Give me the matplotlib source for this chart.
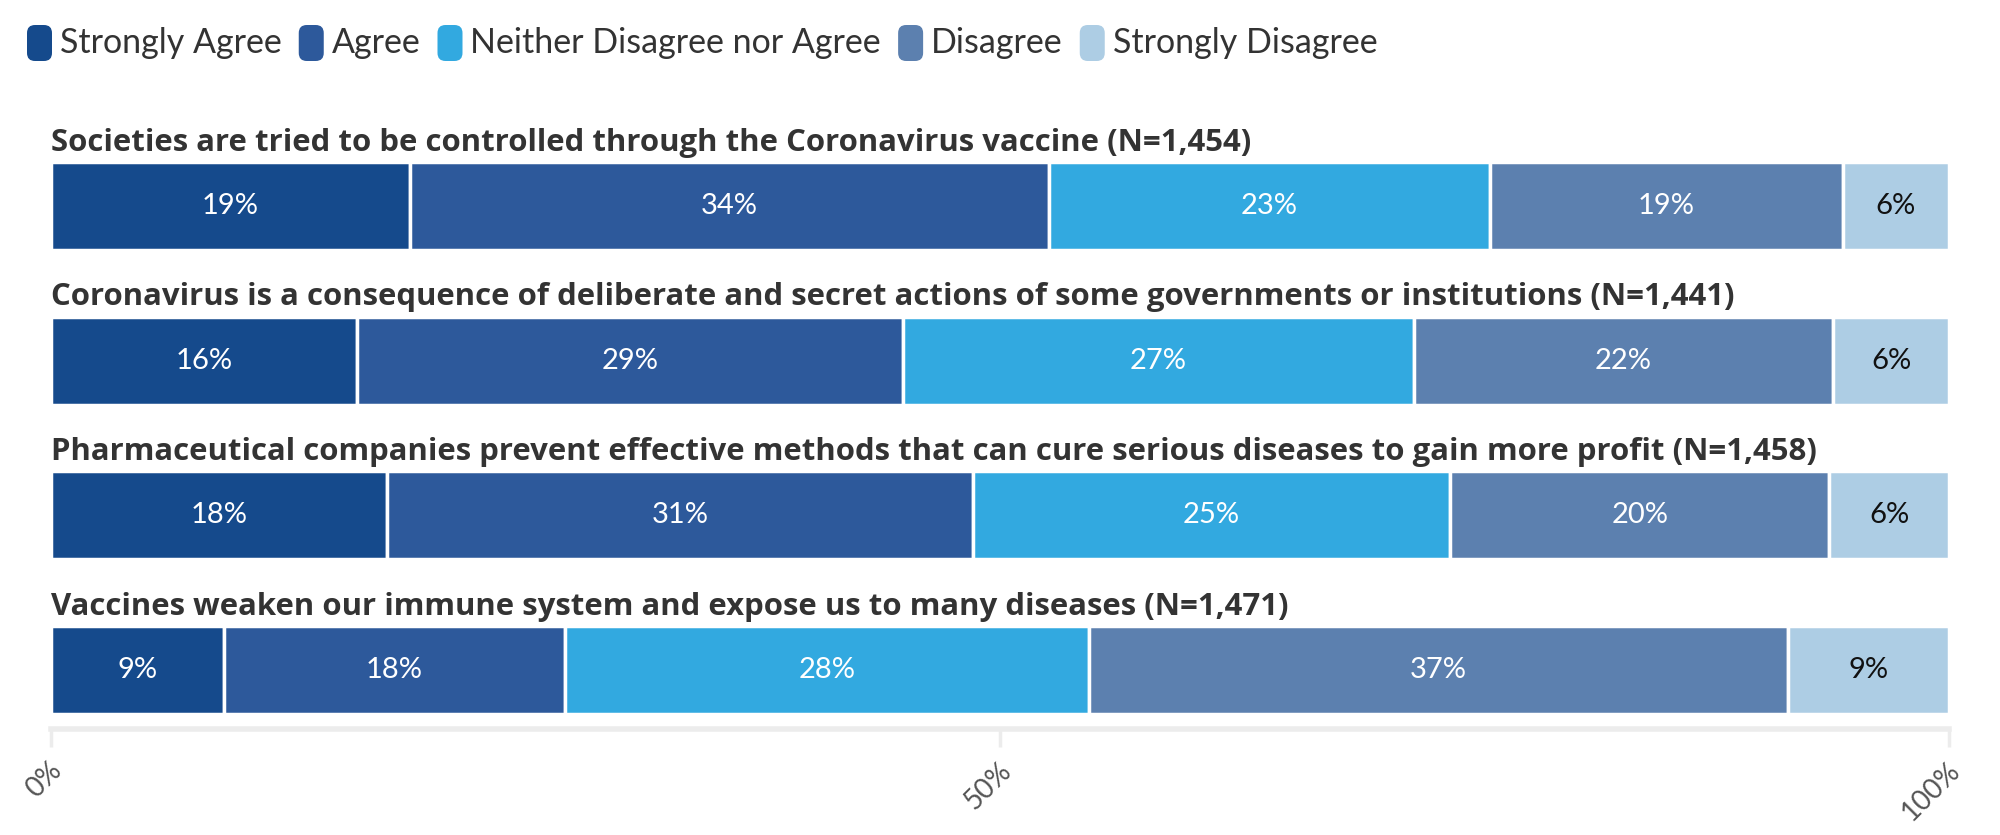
import matplotlib
matplotlib.use("Agg")
import matplotlib.pyplot as plt
from matplotlib.patches import FancyBboxPatch
import matplotlib.transforms as mtransforms
import numpy as np

categories = ["Strongly Agree", "Agree", "Neither Disagree nor Agree", "Disagree", "Strongly Disagree"]
colors = ["#154a8c", "#2d599b", "#32a9e0", "#5c80af", "#adcde4"]
text_colors = ["white", "white", "white", "white", "#111111"]

statements = [
    "Societies are tried to be controlled through the Coronavirus vaccine (N=1,454)",
    "Coronavirus is a consequence of deliberate and secret actions of some governments or institutions (N=1,441)",
    "Pharmaceutical companies prevent effective methods that can cure serious diseases to gain more profit (N=1,458)",
    "Vaccines weaken our immune system and expose us to many diseases (N=1,471)",
]
# segment shares (%) per statement, in category order
values = [
    [18.9, 33.7, 23.2, 18.6, 5.6],
    [16.1, 28.8, 26.9, 22.1, 6.1],
    [17.7, 30.9, 25.1, 20.0, 6.3],
    [9.1, 18.0, 27.6, 36.8, 8.5],
]
labels = [
    ["19%", "34%", "23%", "19%", "6%"],
    ["16%", "29%", "27%", "22%", "6%"],
    ["18%", "31%", "25%", "20%", "6%"],
    ["9%", "18%", "28%", "37%", "9%"],
]
xticks = [0, 50, 100]
xticklabels = ["0%", "50%", "100%"]

FONT = ["Lato", "DejaVu Sans"]
TFONT = ["Open Sans", "DejaVu Sans"]

W, H = 2000, 835
fig = plt.figure(figsize=(W / 100, H / 100), dpi=100)

# axes: x 51..1949 px, y 130..729 px (from top)
ax = fig.add_axes([51 / W, 1 - 729 / H, (1949 - 51) / W, (729 - 130) / H])
pitch = 154.67
ax.set_xlim(0, 100)
ax.set_ylim((729 - 206) / pitch, (130 - 206) / pitch)
bar_h = 88 / pitch

for i, (vals, labs) in enumerate(zip(values, labels)):
    left = 0.0
    for j, v in enumerate(vals):
        ax.barh(i, v, left=left, height=bar_h, color=colors[j], edgecolor="white", linewidth=2.5)
        ax.text(left + v / 2, i, labs[j], ha="center", va="center", color=text_colors[j],
                fontsize=21, family=FONT)
        left += v
    ax.text(0, i - 0.41, statements[i], ha="left", va="center", fontsize=22.4, fontweight="bold",
            color="#333333", family=TFONT)

for s in ["top", "right", "left"]:
    ax.spines[s].set_visible(False)
ax.spines["bottom"].set_color("#ececec")
ax.spines["bottom"].set_linewidth(4)
ax.set_yticks([])
ax.set_xticks(xticks)
ax.set_xticklabels(xticklabels, rotation=45, ha="right", va="center", rotation_mode="anchor",
                   fontsize=20, color="#555555", family=FONT)
ax.tick_params(axis="x", length=13, width=2.5, color="#ececec", pad=14)
offset = mtransforms.ScaledTranslation(7 / 100, 0, fig.dpi_scale_trans)
for lab in ax.get_xticklabels():
    lab.set_transform(lab.get_transform() + offset)

# legend drawn manually
fig.canvas.draw()
renderer = fig.canvas.get_renderer()
x = 27
yc = 43
for c, col in zip(categories, colors):
    p = FancyBboxPatch((x / W, 1 - (yc + 18) / H), 25 / W, 36 / H,
                       boxstyle="round,pad=0,rounding_size=0.004", transform=fig.transFigure,
                       facecolor=col, edgecolor="none", mutation_aspect=W / H)
    fig.patches.append(p)
    t = fig.text((x + 33) / W, 1 - yc / H, c, ha="left", va="center", fontsize=24.5,
                 color="#333333", family=FONT)
    bb = t.get_window_extent(renderer)
    x = x + 33 + bb.width + 17

fig.savefig("out.png", dpi=100)
